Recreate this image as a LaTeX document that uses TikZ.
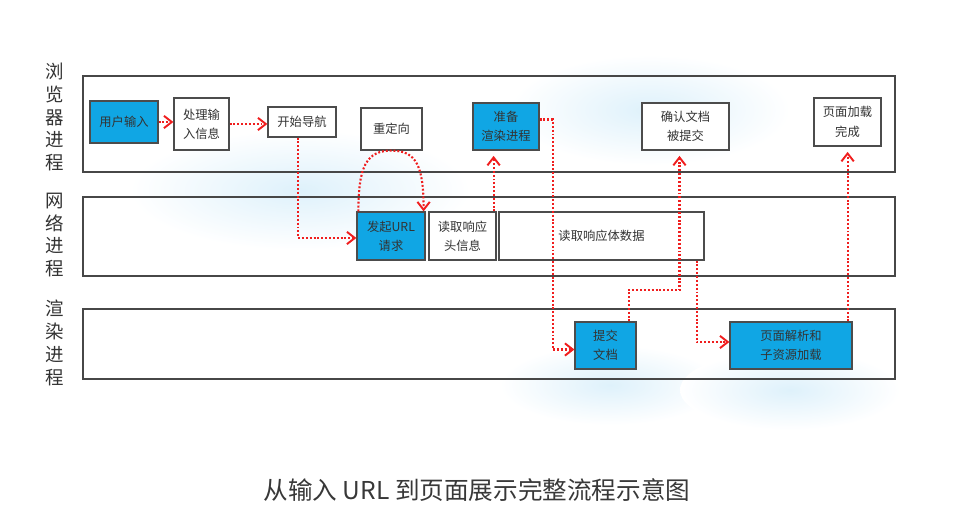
\documentclass[tikz,border=0pt]{standalone}
\usepackage{fontspec}
\setmainfont{Noto Sans CJK SC}
\usetikzlibrary{arrows.meta, calc}

\definecolor{stepblue}{RGB}{16,166,228}
\definecolor{flowred}{RGB}{240,30,30}
\definecolor{glowblue}{RGB}{222,241,251}

\begin{document}
\begin{tikzpicture}[
x=0.02cm, y=-0.02cm,
>={Straight Barb[length=4.5pt,width=7pt,line width=1.1pt]},
lane/.style={
draw=black!72,
line width=1.1pt
},
box/.style={
draw=black!70,
line width=0.7pt,
fill=#1,
inner sep=0pt,
align=center,
font=\fontsize{7}{11}\selectfont,
text=black!80
},
box/.default=white,
lanelab/.style={align=center, font=\fontsize{10.5}{13}\selectfont, text=black!80},
flow/.style={->, flowred, line width=1.2pt, dash pattern=on 1.1pt off 1.1pt},
glow/.style={inner color=glowblue, outer color=white}
]
\useasboundingbox (0,0) rectangle (957,509);

% Soft background glows
\shade[glow] (300,190) ellipse (170 and 60);
\shade[glow] (650,110) ellipse (140 and 55);
\shade[glow] (610,385) ellipse (110 and 40);
\shade[glow] (790,390) ellipse (110 and 40);

% Lanes
\draw[lane] (83,76) rectangle (895,172);
\draw[lane] (83,197) rectangle (895,276);
\draw[lane] (83,309) rectangle (895,379);

\node[lanelab] (lbrowser) at (55,117) {浏\\览\\器\\进\\程};
\node[lanelab] (lnet) at (55,235) {网\\络\\进\\程};
\node[lanelab] (lrender) at (55,343) {渲\\染\\进\\程};

% Browser process
\node[box=stepblue, minimum width=1.36cm, minimum height=0.84cm] (input) at (124,122) {用户输入};
\node[box, minimum width=1.10cm, minimum height=1.04cm] (parse) at (201.5,124) {处理输\\入信息};
\node[box, minimum width=1.36cm, minimum height=0.60cm] (nav) at (302,122) {开始导航};
\node[box, minimum width=1.22cm, minimum height=0.84cm] (redirect) at (391.5,129) {重定向};
\node[box=stepblue, minimum width=1.32cm, minimum height=0.94cm] (prep) at (506,126.5) {准备\\渲染进程};
\node[box, minimum width=1.74cm, minimum height=0.94cm] (confirm) at (685.5,126.5) {确认文档\\被提交};
\node[box, minimum width=1.34cm, minimum height=0.96cm] (loaded) at (847.5,122) {页面加载\\完成};

% Network process
\node[box=stepblue, minimum width=1.36cm, minimum height=0.96cm] (req) at (391,236) {发起URL\\请求};
\node[box, minimum width=1.34cm, minimum height=0.96cm] (head) at (462.5,236) {读取响应\\头信息};
\node[box, minimum width=4.10cm, minimum height=0.96cm] (body) at (601.5,236) {读取响应体数据};

% Renderer process
\node[box=stepblue, minimum width=1.22cm, minimum height=0.94cm] (commit) at (605.5,345.5) {提交\\文档};
\node[box=stepblue, minimum width=2.44cm, minimum height=0.94cm] (render) at (791,345.5) {页面解析和\\子资源加载};

% Flow
\coordinate (headout) at ($(head.north east)+(-3,0)$);
\coordinate (renderout) at ($(render.north east)+(-5,0)$);

\draw[flow] (input.east) -- (input.east -| parse.west);
\draw[flow] (parse.east) -- (parse.east -| nav.west);
\draw[flow] ($(nav.south)+(-4,0)$) |- ($(req.west)+(0,2)$);

% redirect loop
\draw[flow] ($(req.north west)+(2,0)$) .. controls +(0,-45) and +(-25,0) .. (redirect.south)
  .. controls +(25,0) and +(0,-45) .. ($(req.north east)+(-2,0)$);

\draw[flow, shorten >=3pt] (headout) -- (headout |- prep.south);
\draw[flow] ($(prep.east)+(0,-7)$) -- ++(13,0) |- ($(commit.west)+(0,4)$);
\draw[flow, shorten >=3pt] ($(commit.north east)+(-8,0)$) -- ++(0,-31) -| ($(confirm.south)+(-6,0)$);
\draw[flow] ($(body.south east)+(-8,0)$) |- ($(render.west)+(0,-3.5)$);
\draw[flow, shorten >=3pt] (renderout) -- (renderout |- loaded.south);

% Caption
\node[font=\fontsize{14}{16}\selectfont, text=black!78] (caption) at (477,490) {从输入 URL 到页面展示完整流程示意图};
\end{tikzpicture}
\end{document}
